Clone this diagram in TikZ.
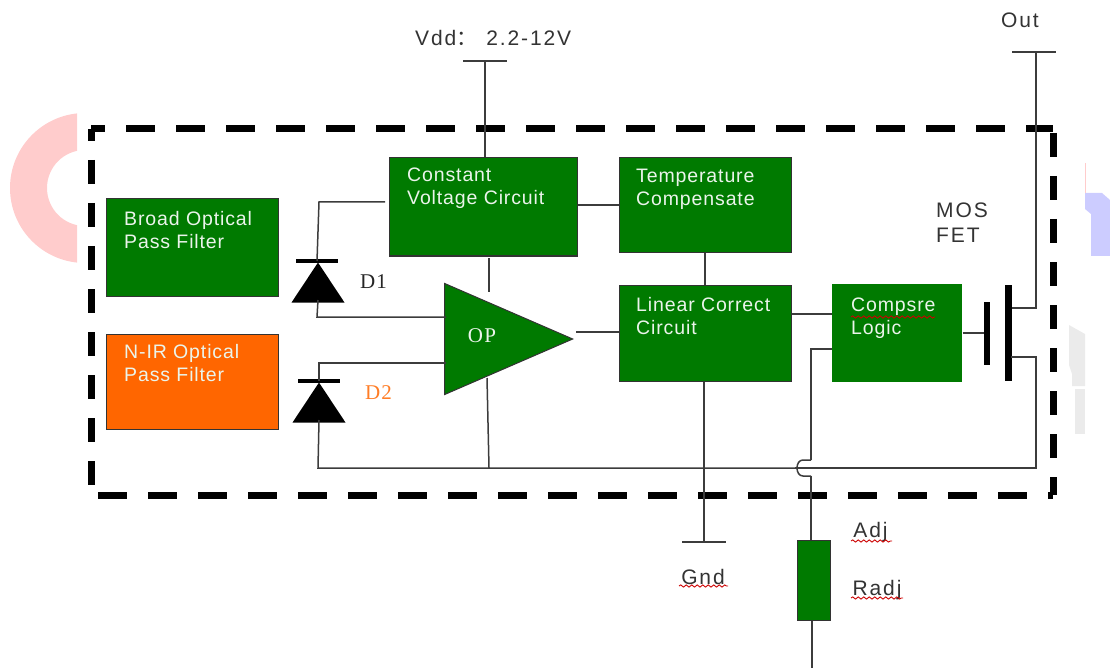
\documentclass[tikz,border=0pt]{standalone}
\usepackage{fontspec}
\setmainfont[LetterSpace=4.5]{Liberation Sans}
\newfontfamily\outerf[LetterSpace=9]{Liberation Sans}
\newfontfamily\serifd[LetterSpace=6]{Liberation Serif}
\newfontfamily\cjk{Noto Sans CJK SC}
\usetikzlibrary{shapes.geometric,
           decorations.pathmorphing,
           calc,
           positioning}
\definecolor{bg}{RGB}{0,122,0}
\definecolor{bo}{RGB}{255,102,0}
\definecolor{wire}{RGB}{60,60,60}
\tikzset{
  blockbox/.style={rectangle,draw=black!80,line width=1pt,fill=bg,inner sep=0},
  blocktext/.style={anchor=north west,inner sep=0,align=left,text=white!92!bg,font=\fontsize{19.5}{23}\selectfont},
  lbl/.style={inner sep=0,text=black!80,font=\outerf\fontsize{21}{25}\selectfont},
  lbld/.style={inner sep=0,font=\serifd\fontsize{21}{23}\selectfont},
  wr/.style={draw=wire,line width=1.5pt},
  capbar/.style={rectangle,fill=wire,inner sep=0,minimum width=44,minimum height=1.5},
  thickbar/.style={rectangle,fill=black,inner sep=0},
  diodetri/.style={isosceles triangle,isosceles triangle stretches,shape border rotate=90,fill=black,inner sep=0,minimum width=53,minimum height=40},
  frameline/.style={line width=7pt,black},
  squiggle/.style={red!80!black,line width=0.9pt,decorate,decoration={snake,segment length=5.5,amplitude=1.1}}
}
\begin{document}
\begin{tikzpicture}[x=1pt,y=-1pt]
\useasboundingbox (0,0) rectangle (1110,668);
% marks left at the border
\begin{scope}
\clip (0,100) rectangle (77,280);
\fill[red!20,even odd rule] (85,188) circle (75) (85,188) circle (38);
\end{scope}
\fill[blue!20] (1085,193)--(1102,193)--(1110,200)--(1110,256)--(1091,256)--(1091,214)--(1085,209)--cycle;
\draw[red!20,line width=0.7pt] (1085.5,163)--(1085.5,193);
\fill[black!8] (1069,325)--(1085,334)--(1085,386)--(1072,386)--(1072,374)--(1069,365)--cycle;
\fill[black!8] (1075,389) rectangle (1085,434);
% dashed frame
\coordinate (nw) at (91,129);
\coordinate (ne) at (1053,129);
\coordinate (se) at (1053,495);
\coordinate (sw) at (91,495);
\draw[frameline,dash pattern=on 29 off 21,dash phase=15] (nw)--(ne);
\draw[frameline,dash pattern=on 29 off 21,dash phase=43] (sw)--(se);
\draw[frameline,dash pattern=on 24 off 19,dash phase=12] (nw)--(sw);
\draw[frameline,dash pattern=on 24 off 19,dash phase=39] (ne)--(se);
% blocks
\node[blockbox,minimum width=172,minimum height=97] (broad) at (192,247.5) {};
\node[blockbox,fill=bo,minimum width=172,minimum height=95] (nir) at (192,381.5) {};
\node[blockbox,minimum width=188,minimum height=98] (cv) at (483,207) {};
\node[blockbox,minimum width=172,minimum height=95] (temp) at (705,205.5) {};
\node[blockbox,minimum width=172,minimum height=96] (lin) at (705,333) {};
\node[blockbox,draw=none,minimum width=130,minimum height=98] (logic) at (897,333) {};
\node[blockbox,minimum width=33,minimum height=80] (radj) at (813.5,580) {};
\node[isosceles triangle,isosceles triangle stretches,draw=black!80,line width=1pt,fill=bg,inner sep=0,minimum width=111,minimum height=128,anchor=apex] (op) at (574,339) {};
% supply and ground ends
\node[capbar] (vdd) at (485,61) {};
\node[capbar] (out) at (1034,52) {};
\node[capbar] (gnd) at (704,542) {};
\coordinate (radjend) at (812,668);
% diodes
\node[thickbar,minimum width=42,minimum height=4] (bOne) at (317,261) {};
\node[diodetri,anchor=apex] (dOne) at (318,262) {};
\node[thickbar,minimum width=42,minimum height=4] (bTwo) at (319,381) {};
\node[diodetri,anchor=apex] (dTwo) at (319,382) {};
% mos fet
\node[thickbar,minimum width=6,minimum height=63] (gate) at (987,333.5) {};
\node[thickbar,minimum width=7,minimum height=96] (chan) at (1008,333) {};
% wires
\coordinate (rail) at (1036,468);
\coordinate (hopa) at (811,460);
\coordinate (hopb) at (811,476);
\draw[wr] (vdd.center)--(vdd.center|-cv.north);
\draw[wr] (bOne.center)--(319,202)--(385,202);
\draw[wr] (318,300)--(317,317)--(446,317);
\draw[wr] (bTwo.center)--(319,363)--(446,363);
\draw[wr] (319,420)--(318,468)--(795,468);
\draw[wr] (795,468)--(rail)--(1036,357)--(1011,357);
\draw[wr] (489,258)--(489,292);
\draw[wr] (487,378)--(489,468);
\draw[wr] (576,332)--(lin.west|-576,332);
\draw[wr] (cv.east|-0,205)--(temp.west|-0,205);
\draw[wr] (temp.south)--(lin.north);
\draw[wr] (lin.east|-0,314)--(logic.west|-0,314);
\draw[wr] (logic.west|-0,349)--(811,349)--(hopa);
\draw[wr] (hopa) -- (803,460) .. controls (795,460) and (795,476) .. (803,476) -- (hopb);
\draw[wr] (hopb)--(radj.north-|hopb);
\draw[wr] (radj.south-|radjend)--(radjend);
\draw[wr] (lin.south-|gnd.center)--(gnd.center);
\draw[wr] (logic.east|-0,333)--(gate.west|-0,333);
\draw[wr] (chan.east|-0,308)--(1036,308)--(out.center-|1036,308);
% labels
\node[blocktext] (tBroad) at (124,211) {Broad Optical\\Pass Filter};
\node[blocktext] (tNir) at (124,344) {N-IR Optical\\Pass Filter};
\node[blocktext] (tCv) at (407,168) {Constant\\Voltage Circuit};
\node[blocktext] (tTemp) at (636,169) {Temperature\\Compensate};
\node[blocktext] (tLin) at (636,297) {Linear Correct\\Circuit};
\node[blocktext] (tLogic) at (851,298) {Compsre\\Logic};
\node[lbld,text=white!92!bg] (tOp) at (482,336) {OP};
\node[lbld,text=black!85] (tdOne) at (373.5,282) {D1};
\node[lbld,text=bo!85!white] (tdTwo) at (378.5,393) {D2};
\node[lbl,anchor=west] (tVdd) at (415,38) {Vdd{\cjk ：}\hspace{9pt}2.2-12V};
\node[lbl] (tOut) at (1020,20) {Out};
\node[lbl,anchor=north west,align=left] (tMos) at (936,203) {MOS\\FET};
\node[lbl] (tGnd) at (703,577) {Gnd};
\node[lbl] (tAdj) at (870.5,532) {Adj};
\node[lbl] (tRadj) at (877,590) {Radj};
% spelling marks
\draw[squiggle] (851,317)--(935,317);
\draw[squiggle] (679,586)--(728,586);
\draw[squiggle] (851,541)--(892,541);
\draw[squiggle] (851,598)--(903,598);
\end{tikzpicture}
\end{document}
